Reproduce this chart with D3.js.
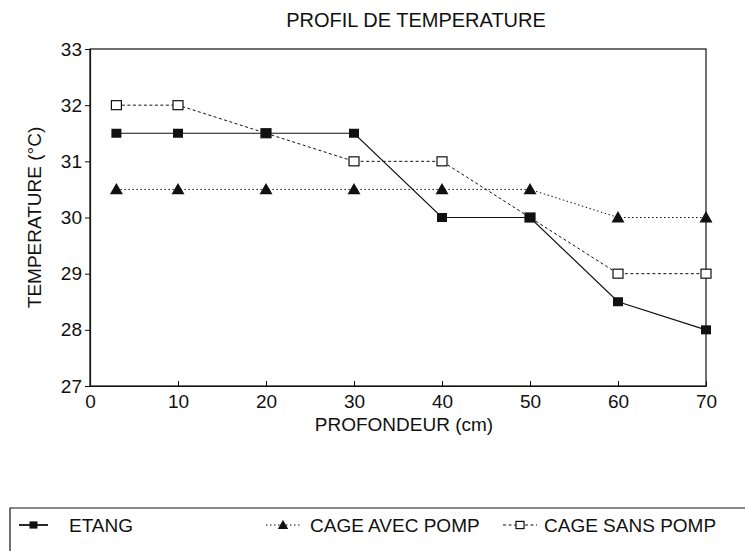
<!DOCTYPE html>
<html>
<head>
<meta charset="utf-8">
<script src="https://cdn.jsdelivr.net/npm/d3@7"></script>
<style>
  body { margin: 0; background: #fff; }
  svg { font-family: "Liberation Sans", Arial, sans-serif; }
</style>
</head>
<body>
<div id="chart"></div>
<script>
const depths = [3, 10, 20, 30, 40, 50, 60, 70];
const etang = [31.5, 31.5, 31.5, 31.5, 30, 30, 28.5, 28];
const cageAvecPomp = [30.5, 30.5, 30.5, 30.5, 30.5, 30.5, 30, 30];
const cageSansPomp = [32, 32, 31.5, 31, 31, 30, 29, 29];
const xTicks = [0, 10, 20, 30, 40, 50, 60, 70];
const yTicks = [27, 28, 29, 30, 31, 32, 33];

const series = [
  { name: 'ETANG', values: etang, dash: null, marker: 'filledSquare' },
  { name: 'CAGE AVEC POMP', values: cageAvecPomp, dash: '1.5,2.5', marker: 'triangle' },
  { name: 'CAGE SANS POMP', values: cageSansPomp, dash: '3,2.5', marker: 'openSquare' }
];

const width = 745, height = 551;
const margin = { left: 90, right: 39, top: 49, bottom: 165 };
const fontSize = '19px';

const svg = d3.select('#chart').append('svg')
  .attr('width', width)
  .attr('height', height);

const x = d3.scaleLinear().domain([0, 70]).range([margin.left, width - margin.right]);
const y = d3.scaleLinear().domain([27, 33]).range([height - margin.bottom, margin.top]);

// frame
svg.append('rect')
  .attr('x', x(0)).attr('y', y(33))
  .attr('width', x(70) - x(0)).attr('height', y(27) - y(33))
  .attr('fill', 'none').attr('stroke', '#111').attr('stroke-width', 1.2);

// axes
const yAxis = svg.append('g')
  .attr('transform', `translate(${x(0)},0)`)
  .call(d3.axisLeft(y).tickValues(yTicks).tickSize(5).tickPadding(3).tickFormat(d3.format('d')));
const xAxis = svg.append('g')
  .attr('transform', `translate(0,${y(27)})`)
  .call(d3.axisBottom(x).tickValues(xTicks).tickSizeInner(-5).tickSizeOuter(0).tickPadding(9).tickFormat(d3.format('d')));

[xAxis, yAxis].forEach(g => {
  g.attr('font-size', null).attr('font-family', null);
  g.select('.domain').attr('stroke', '#111').attr('stroke-width', 1.2);
  g.selectAll('line').attr('stroke', '#111');
  g.selectAll('text').attr('fill', '#111').style('font-size', fontSize);
});

// titles
svg.append('text')
  .attr('x', 416).attr('y', 27)
  .attr('text-anchor', 'middle')
  .style('font-size', '20px').attr('fill', '#111')
  .text('PROFIL DE TEMPERATURE');

svg.append('text')
  .attr('x', 404).attr('y', 431)
  .attr('text-anchor', 'middle')
  .style('font-size', fontSize).attr('fill', '#111')
  .text('PROFONDEUR (cm)');

svg.append('text')
  .attr('transform', `translate(41,${(y(27) + y(33)) / 2}) rotate(-90)`)
  .attr('text-anchor', 'middle')
  .style('font-size', fontSize).attr('fill', '#111')
  .text('TEMPERATURE (°C)');

function drawMarker(g, type, cx, cy, s) {
  if (type === 'filledSquare') {
    g.append('rect').attr('x', cx - s).attr('y', cy - s * 0.9).attr('width', 2 * s).attr('height', 1.8 * s)
      .attr('fill', '#111');
  } else if (type === 'openSquare') {
    g.append('rect').attr('x', cx - s).attr('y', cy - s * 0.9).attr('width', 2 * s).attr('height', 1.8 * s)
      .attr('fill', '#fff').attr('stroke', '#111').attr('stroke-width', 1.2);
  } else {
    const t = s * 1.3;
    g.append('path')
      .attr('d', `M${cx},${cy - t}L${cx + t},${cy + t * 0.75}L${cx - t},${cy + t * 0.75}Z`)
      .attr('fill', '#111');
  }
}

const line = d3.line().x(d => x(d[0])).y(d => y(d[1]));

// lines first, then markers; filled marks drawn last so they sit on top
const drawOrder = [series[2], series[1], series[0]];
drawOrder.forEach(s => {
  const pts = depths.map((d, i) => [d, s.values[i]]);
  svg.append('path')
    .datum(pts)
    .attr('d', line)
    .attr('fill', 'none')
    .attr('stroke', '#111')
    .attr('stroke-width', s.dash ? 1 : 1.2)
    .attr('stroke-dasharray', s.dash);
});
drawOrder.forEach(s => {
  const g = svg.append('g');
  depths.forEach((d, i) => drawMarker(g, s.marker, x(d), y(s.values[i]), 5));
});

// legend
const legendTop = 508;
svg.append('path')
  .attr('d', `M${width + 5},${legendTop}H10V${height + 5}`)
  .attr('fill', 'none').attr('stroke', '#111').attr('stroke-width', 1.2);

const legendItems = [
  { s: series[0], x0: 19, x1: 48, tx: 69 },
  { s: series[1], x0: 266, x1: 300, tx: 310 },
  { s: series[2], x0: 503, x1: 537, tx: 544 }
];
const ly = 525;
legendItems.forEach(it => {
  const g = svg.append('g');
  g.append('line')
    .attr('x1', it.x0).attr('x2', it.x1).attr('y1', ly).attr('y2', ly)
    .attr('stroke', '#111').attr('stroke-width', it.s.dash ? 1 : 1.8)
    .attr('stroke-dasharray', it.s.dash);
  drawMarker(g, it.s.marker, (it.x0 + it.x1) / 2, ly, 4);
  g.append('text')
    .attr('x', it.tx).attr('y', ly + 7)
    .style('font-size', fontSize).attr('fill', '#111')
    .text(it.s.name);
});
</script>
</body>
</html>
